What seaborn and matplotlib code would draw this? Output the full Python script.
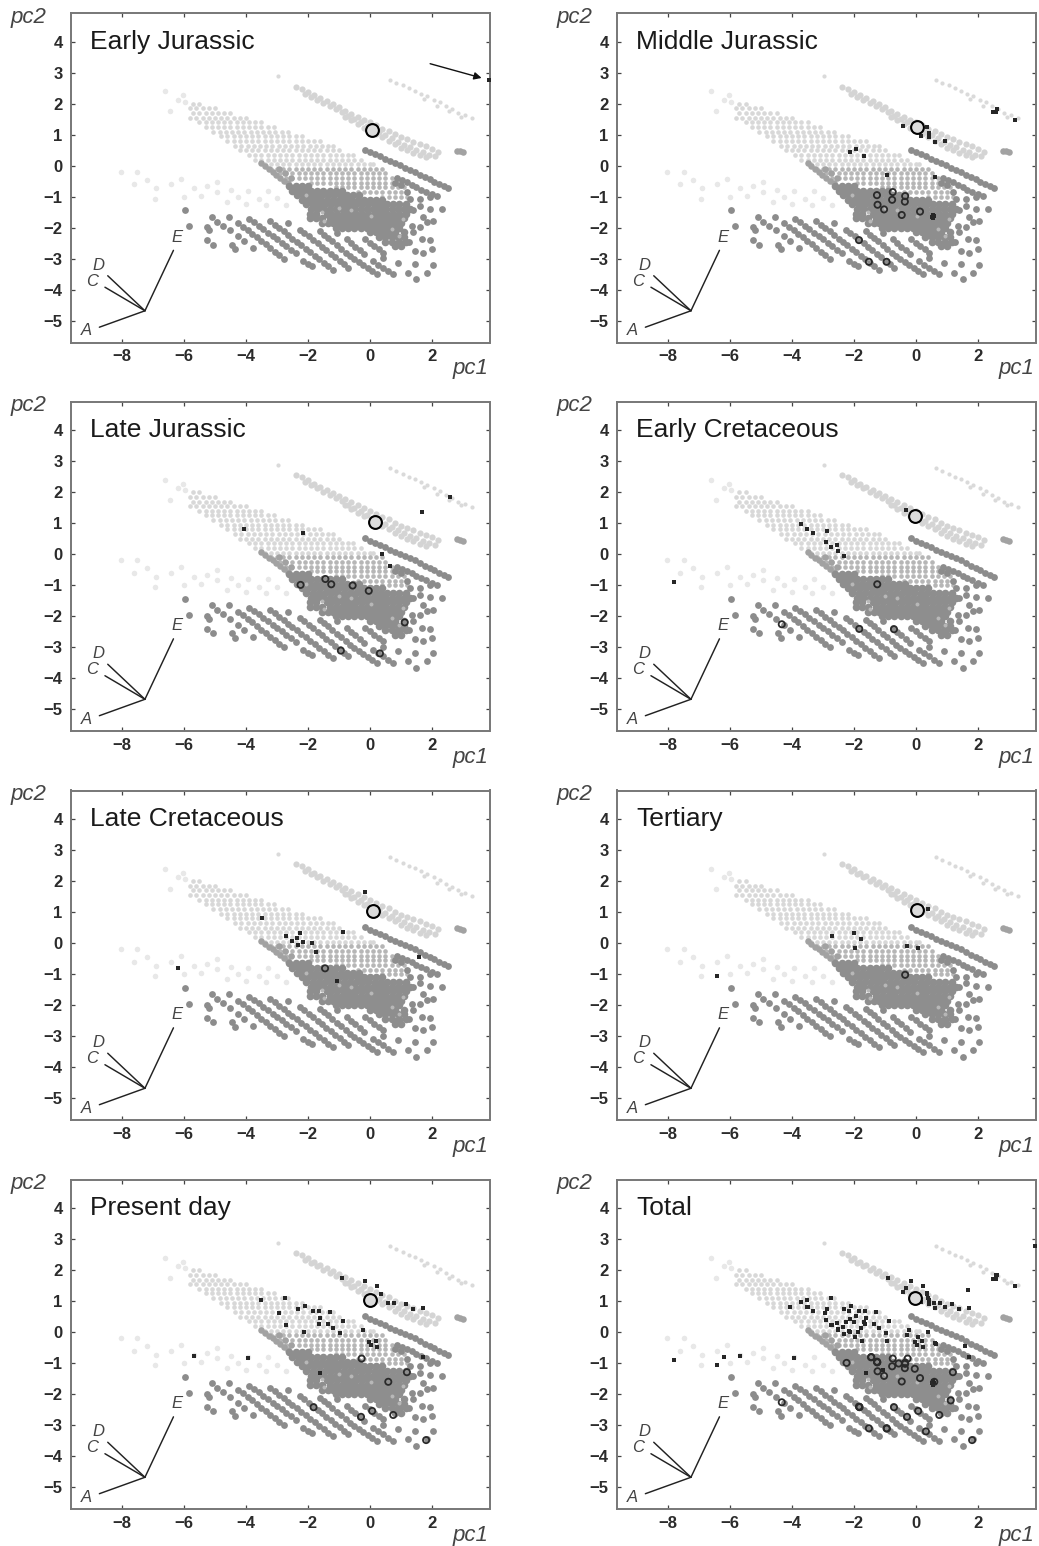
import matplotlib
matplotlib.use("Agg")
import matplotlib.pyplot as plt
import pandas as pd
import seaborn as sns

sns.set_theme(style="white")
plt.rcParams["font.family"] = ["Liberation Sans", "DejaVu Sans"]

titles = ["Early Jurassic", "Middle Jurassic", "Late Jurassic", "Early Cretaceous",
          "Late Cretaceous", "Tertiary", "Present day", "Total"]
x_ticks = [-8, -6, -4, -2, 0, 2]
y_ticks = [-5, -4, -3, -2, -1, 0, 1, 2, 3, 4]

# ---- morphospace background ----
dark_pts = [
 (-4.25,-1.85),(-4.10,-1.97),(-3.95,-2.08),(-3.80,-2.20),(-3.66,-2.31),(-3.51,-2.43),(-3.36,-2.54),(-3.21,-2.66),(-3.06,-2.77),(-2.92,-2.89),(-2.77,-3.00),
 (-3.89,-1.72),(-3.74,-1.83),(-3.59,-1.94),(-3.44,-2.05),(-3.29,-2.16),(-3.14,-2.27),(-2.99,-2.38),(-2.85,-2.49),(-2.70,-2.60),(-2.55,-2.71),(-2.40,-2.82),
 (-3.23,-1.79),(-3.08,-1.90),(-2.94,-2.01),(-2.79,-2.12),(-2.65,-2.24),(-2.50,-2.35),(-2.36,-2.46),(-2.21,-2.57),(-2.07,-2.68),(-1.92,-2.79),(-1.78,-2.90),(-1.63,-3.02),(-1.49,-3.13),(-1.34,-3.24),(-1.20,-3.35),
 (-2.26,-2.06),(-2.12,-2.17),(-1.98,-2.28),(-1.84,-2.39),(-1.69,-2.50),(-1.55,-2.61),(-1.41,-2.73),(-1.27,-2.84),(-1.13,-2.95),(-0.98,-3.06),(-0.84,-3.18),(-0.70,-3.29),
 (-2.63,-1.85),(-1.61,-2.11),(-1.47,-2.22),(-1.34,-2.33),(-1.21,-2.44),(-1.08,-2.16),(-1.07,-2.56),(-0.93,-2.68),(-0.79,-2.80),
 (-0.75,-2.38),(-0.61,-2.50),(-0.47,-2.62),(-0.33,-2.73),(-0.19,-2.85),
 (-0.65,-2.92),(-0.51,-3.02),(-0.36,-3.11),(-0.22,-3.21),(-0.07,-3.31),(0.07,-3.40),(0.22,-3.50),
 (0.11,-3.08),(0.27,-3.19),(0.43,-3.29),(0.59,-3.40),(0.75,-3.50),
 (-0.16,-2.38),(-0.01,-2.49),(0.14,-2.60),(0.29,-2.70),(0.43,-2.81),
 (-2.15,-3.08),(-2.00,-3.18),(-1.88,-3.24),
 (0.43,-2.98),(0.91,-3.13),(1.45,-3.18),(2.04,-3.20),(1.24,-3.45),(1.50,-3.67),(1.83,-3.45),
 (1.67,-2.38),(1.94,-2.40),(1.99,-2.70),(1.72,-2.81),(1.45,-2.75),(2.31,-1.41),(1.94,-1.39),(2.04,-1.79),(1.83,-1.82),(1.61,-1.97),(1.34,-1.95),
 (1.29,-1.09),(1.61,-1.09),(1.94,-1.00),(1.40,-1.42),(1.60,-1.30),(1.40,-2.15),(1.25,-2.45),(1.70,-1.65),
 (-5.97,-1.44),(-5.83,-1.96),(-5.11,-1.64),(-4.92,-1.80),(-4.73,-1.93),(-4.53,-2.09),(-4.56,-1.65),(-5.25,-1.99),(-5.20,-2.08),(-5.25,-2.41),(-5.05,-2.55),(-4.46,-2.55),(-4.35,-2.69),(-4.25,-2.28),(-4.06,-2.44),(-3.78,-2.66),
 (-0.16,0.51),(0.00,0.44),(0.16,0.37),(0.32,0.30),(0.48,0.22),(0.64,0.15),(0.80,0.08),(0.96,0.01),(1.12,-0.06),(1.28,-0.13),(1.44,-0.20),(1.60,-0.29),(1.76,-0.37),(1.92,-0.44),(2.08,-0.52),(2.24,-0.60),(2.38,-0.66),(2.53,-0.72),
 (0.86,-0.40),(1.02,-0.47),(1.18,-0.54),(1.34,-0.62),(1.50,-0.70),(1.66,-0.77),(1.82,-0.84),(2.00,-0.92),(2.15,-0.99),(0.80,-0.55),(1.00,-0.62),(1.20,-0.85),
]

dense_y = [-0.65, -0.8, -0.95, -1.1, -1.25, -1.4, -1.55, -1.7, -1.85, -2.0, -2.15, -2.3, -2.45, -2.6]
dense_x = [
 [-2.6,-2.4,-2.2,-2.0],
 [-2.5,-2.3,-2.1,-1.9,-1.7,-1.5,-1.3,-1.1,-0.9],
 [-2.35,-2.15,-1.95,-1.75,-1.55,-1.35,-1.15,-0.95,-0.75,-0.55,-0.35],
 [-2.2,-2.0,-1.8,-1.6,-1.4,-1.2,-1.0,-0.8,-0.6,-0.4,-0.2,0.0,0.2,0.4],
 [-2.05,-1.85,-1.65,-1.45,-1.25,-1.05,-0.85,-0.65,-0.45,-0.25,-0.05,0.15,0.35,0.55,0.75,0.95,1.15],
 [-1.9,-1.7,-1.5,-1.3,-1.1,-0.9,-0.7,-0.5,-0.3,-0.1,0.1,0.3,0.5,0.7,0.9,1.1,1.3],
 [-1.95,-1.75,-1.4,-1.25,-1.05,-0.85,-0.65,-0.45,-0.25,-0.05,0.15,0.35,0.55,0.75,0.95,1.15],
 [-1.95,-1.75,-1.55,-1.3,-1.1,-0.9,-0.7,-0.5,-0.3,-0.1,0.1,0.3,0.5,0.7,0.9,1.1],
 [-1.55,-1.35,-1.2,-1.0,-0.8,-0.6,-0.4,-0.2,0.0,0.2,0.4,0.6,0.8,1.0],
 [-1.1,-0.9,-0.7,-0.5,-0.3,-0.1,0.1,0.3,0.5,0.7,0.95],
 [0.0,0.2,0.4,0.6,0.8,1.1],
 [0.3,0.5,0.7,0.9,1.1],
 [0.5,0.7,0.95,1.15],
 [0.8,1.0],
]
speck_pts = [(-1.00,-1.35),(-0.62,-1.42),(0.02,-1.62),(-1.55,-1.50),(-2.05,-0.95),(0.72,-2.05),(0.92,-2.28),(1.05,-1.72),(-1.48,-1.78)]

light_y = [2.0, 1.85, 1.7, 1.55, 1.4, 1.25, 1.1, 0.95, 0.8, 0.65, 0.5, 0.35, 0.2, 0.05]
light_x = [
 [-5.7,-5.5],
 [-5.8,-5.6,-5.4,-5.2,-5.0],
 [-5.7,-5.5,-5.3,-5.1,-4.9,-4.7,-4.5],
 [-5.8,-5.6,-5.4,-5.2,-5.0,-4.8,-4.6,-4.4,-4.2,-4.0],
 [-5.5,-5.3,-5.1,-4.9,-4.7,-4.5,-4.3,-4.1,-3.9,-3.7,-3.5],
 [-5.3,-5.1,-4.9,-4.7,-4.5,-4.3,-4.1,-3.9,-3.7,-3.5,-3.3,-3.1],
 [-5.05,-4.85,-4.65,-4.45,-4.25,-4.05,-3.85,-3.65,-3.45,-3.25,-3.05,-2.85,-2.65],
 [-4.8,-4.6,-4.4,-4.2,-4.0,-3.8,-3.6,-3.4,-3.2,-3.0,-2.8,-2.6,-2.4,-2.2],
 [-4.6,-4.4,-4.2,-4.0,-3.8,-3.6,-3.4,-3.2,-3.0,-2.8,-2.6,-2.4,-2.2,-2.0,-1.8,-1.6],
 [-4.35,-4.15,-3.95,-3.75,-3.55,-3.35,-3.15,-2.95,-2.75,-2.55,-2.35,-2.15,-1.95,-1.75,-1.55,-1.35,-1.2],
 [-4.2,-4.0,-3.8,-3.6,-3.4,-3.2,-3.0,-2.8,-2.6,-2.4,-2.2,-2.0,-1.8,-1.6,-1.4,-1.2,-1.0],
 [-3.9,-3.7,-3.5,-3.3,-3.1,-2.9,-2.7,-2.5,-2.3,-2.1,-1.9,-1.7,-1.5,-1.3,-1.1,-0.9,-0.7,-0.55],
 [-3.7,-3.5,-3.3,-3.1,-2.9,-2.7,-2.5,-2.3,-2.1,-1.9,-1.7,-1.5,-1.3,-1.1,-0.9,-0.7,-0.5,-0.3],
 [-3.4,-3.2,-3.0,-2.8,-2.6,-2.4,-2.2,-2.0,-1.8,-1.6,-1.4,-1.2,-1.0,-0.8,-0.6,-0.4,-0.2,0.0,0.1],
]

mid_y = [-0.1, -0.25, -0.4, -0.55, -0.7, -0.85, -1.0]
mid_x = [
 [-3.2,-3.0,-2.8,-2.6,-2.4,-2.2,-2.0,-1.8,-1.6,-1.4,-1.2,-1.0,-0.8,-0.6,-0.4,-0.2,0.0,0.2,0.4],
 [-2.9,-2.7,-2.5,-2.3,-2.1,-1.9,-1.7,-1.5,-1.3,-1.1,-0.9,-0.7,-0.5,-0.3,-0.1,0.1,0.3,0.5],
 [-2.7,-2.5,-2.3,-2.1,-1.9,-1.7,-1.5,-1.3,-1.1,-0.9,-0.7,-0.5,-0.3,-0.1,0.1,0.3,0.5,0.7],
 [-1.9,-1.7,-1.5,-1.3,-1.1,-0.9,-0.7,-0.5,-0.3,-0.1,0.1,0.3,0.5,0.7,0.9],
 [-1.1,-0.9,-0.7,-0.5,-0.3,-0.1,0.1,0.3,0.5,0.7,0.9,1.1],
 [-0.4,-0.2,0.0,0.2,0.4,0.6,0.8,1.0,1.2],
 [0.4,0.6,0.8,1.0,1.2],
]

strip_pts = [(-3.50,0.08),(-3.38,-0.01),(-3.26,-0.11),(-3.14,-0.20),(-3.02,-0.29),(-2.90,-0.39),(-2.78,-0.48),(-2.66,-0.57),
             (-2.95,-0.10),(-2.75,-0.25),(-2.55,-0.40),(2.80,0.49),(3.01,0.43),(2.90,0.47)]

band_pts = [
 (-2.40,2.55),(-2.20,2.48),(-2.00,2.38),(-1.80,2.28),(-1.60,2.18),(-1.40,2.08),(-1.20,1.98),(-1.00,1.88),(-0.80,1.78),(-0.60,1.68),(-0.40,1.58),(-0.20,1.48),(0.00,1.40),(0.20,1.30),(0.40,1.20),(0.60,1.12),(0.80,1.02),(1.00,0.92),(1.20,0.85),(1.40,0.78),(1.60,0.70),(1.80,0.62),(2.00,0.55),(2.20,0.45),
 (-2.10,2.32),(-1.90,2.22),(-1.70,2.12),(-1.50,2.02),(-1.30,1.92),(-1.10,1.82),(-0.90,1.72),(-0.70,1.60),(-0.50,1.50),(-0.30,1.40),(-0.10,1.28),(0.10,1.18),(0.30,1.08),(0.50,0.98),(0.70,0.88),(0.90,0.78),(1.10,0.68),(1.30,0.60),(1.50,0.52),(1.70,0.44),(1.90,0.36),(2.10,0.30),
 (-0.80,1.58),(-0.60,1.46),(-0.40,1.34),(-0.20,1.22),(0.20,1.02),(0.40,0.92),(0.60,0.80),(0.80,0.70),(1.00,0.58),(1.20,0.50),(1.40,0.42),(1.60,0.34),(1.80,0.28),
]

top_band_pts = [(-2.96,2.89),(0.65,2.77),(0.85,2.68),(1.05,2.60),(1.25,2.50),(1.45,2.42),(1.65,2.32),(1.85,2.24),(2.05,2.12),(2.25,2.04),(2.45,1.92),(2.65,1.82),(2.85,1.70),(3.05,1.62),(3.28,1.53),(1.75,2.16),(2.15,1.94),(2.55,1.76),(2.95,1.58)]

faint_pts = [(-8.04,-0.19),(-7.5,-0.19),(-7.6,-0.6),(-7.19,-0.46),(-6.91,-0.73),(-6.94,-1.07),(-6.43,-0.6),(-6.1,-0.42),(-5.68,-0.73),(-5.45,-0.97),(-6.0,-1.0),
             (-5.25,-0.66),(-4.93,-0.52),(-4.49,-0.78),(-4.93,-0.84),(-4.6,-1.16),(-4.26,-1.0),(-3.94,-0.8),(-3.58,-1.07),(-3.29,-0.8),(-3.35,-1.26),(-4.0,-1.22),(-2.72,-1.26),(-3.0,-1.05),
             (-6.45,1.75),(-6.03,2.28),(-6.19,2.12),(-5.97,2.06),(-6.6,2.40)]

# ---- fossil occurrences per time slice ----
squares = [
 [(3.85,2.77)],
 [(-0.43,1.29),(0.34,1.25),(0.43,1.05),(0.43,0.92),(0.15,0.97),(0.60,0.78),(0.95,0.80),(-2.13,0.43),(-1.92,0.53),(-1.68,0.32),(-0.92,-0.29),(0.62,-0.35),(2.49,1.73),(2.60,1.83),(2.58,1.73),(3.20,1.49),(0.54,-1.58),(0.54,-1.69),(0.58,-1.63),(0.50,-1.64)],
 [(2.58,1.83),(1.67,1.37),(-4.06,0.81),(-2.16,0.70),(0.40,0.02),(0.63,-0.39)],
 [(-3.71,0.97),(-3.52,0.82),(-3.32,0.68),(-2.87,0.75),(-2.91,0.39),(-2.73,0.24),(-2.55,0.31),(-2.52,0.09),(-2.32,-0.05),(-7.80,-0.91),(-0.32,1.44)],
 [(-0.16,1.65),(-3.48,0.82),(-0.88,0.35),(-2.71,0.24),(-2.27,0.32),(-2.35,0.16),(-2.51,0.07),(-2.15,0.03),(-2.31,-0.06),(-1.88,0.02),(-1.74,-0.28),(1.57,-0.46),(-1.07,-1.22),(-6.20,-0.80)],
 [(0.39,1.09),(-2.72,0.23),(-1.99,0.32),(-1.76,0.15),(-1.96,-0.15),(-0.30,-0.10),(0.06,-0.16),(-6.42,-1.07)],
 [(-0.89,1.76),(-0.16,1.65),(0.22,1.49),(0.35,1.24),(0.58,0.94),(0.76,0.94),(1.16,0.92),(1.38,0.75),(1.70,0.78),(-3.52,1.04),(-2.75,1.10),(-2.92,0.61),(-2.31,0.76),(-2.11,0.85),(-1.85,0.68),(-1.65,0.70),(-1.30,0.65),(-1.61,0.47),(-0.88,0.36),(-1.66,0.27),(-1.35,0.28),(-1.19,0.15),(-0.98,-0.02),(-2.71,0.24),(-2.14,0.02),(-0.23,0.06),(-0.03,-0.30),(0.19,-0.27),(0.04,-0.40),(0.22,-0.49),(1.70,-0.80),(-5.67,-0.77),(-3.93,-0.82),(-1.61,-1.30)],
]
circles = [
 [],
 [(-1.26,-0.95),(-0.75,-0.85),(-0.77,-1.10),(-0.35,-0.98),(-0.36,-1.16),(-1.24,-1.26),(-1.03,-1.41),(-0.46,-1.59),(0.13,-1.48),(-1.84,-2.40),(-1.52,-3.10),(-0.95,-3.10)],
 [(-2.24,-0.99),(-1.44,-0.80),(-1.25,-0.97),(-0.56,-1.01),(-0.04,-1.18),(1.12,-2.20),(-0.94,-3.11),(0.32,-3.20)],
 [(-1.25,-0.97),(-4.33,-2.26),(-1.83,-2.41),(-0.71,-2.42)],
 [(-1.45,-0.81)],
 [(-0.35,-1.02)],
 [(-0.27,-0.85),(1.19,-1.29),(0.59,-1.60),(-1.82,-2.42),(0.07,-2.54),(-0.29,-2.73),(0.75,-2.67),(1.81,-3.48)],
]
reference_x = [0.08, 0.04, 0.17, -0.03, 0.09, 0.03, 0.01, -0.02]
reference_y = [1.16, 1.24, 1.03, 1.22, 1.04, 1.06, 1.05, 1.10]

arrow_start = (1.94, 3.29)
arrow_tip = (3.60, 2.83)
axis_origin = (-7.26, -4.68)
axis_names = ["A", "C", "D", "E"]
axis_ends = [(-8.73, -5.21), (-8.55, -3.92), (-8.46, -3.55), (-6.34, -2.73)]
axis_labels = [(-9.16, -5.33), (-8.98, -3.73), (-8.76, -3.21), (-6.24, -2.31)]

# total panel is the union of the seven slices
squares.append([p for s in squares for p in s])
circles.append([p for c in circles for p in c])


def frame(points):
    return pd.DataFrame(points, columns=["pc1", "pc2"])


def rows(ys, xs):
    return frame([(x, y) for y, r in zip(ys, xs) for x in r])


faint_df = frame(faint_pts)
top_df = frame(top_band_pts)
band_df = frame(band_pts)
light_df = rows(light_y, light_x)
mid_df = rows(mid_y, mid_x)
strip_df = frame(strip_pts)
dark_df = frame(dark_pts)
dense_df = rows(dense_y, dense_x)
speck_df = frame(speck_pts)

W, H = 1039, 1546
fig = plt.figure(figsize=(W / 100, H / 100), dpi=100, facecolor="white")
lefts = [71, 617]
tops = [13, 401.5, 790.5, 1179.5]
ax_w, ax_h = 418.5, 329.5

for i, title in enumerate(titles):
    row, col = i // 2, i % 2
    ax = fig.add_axes([lefts[col] / W, 1 - (tops[row] + ax_h) / H, ax_w / W, ax_h / H])
    ax.set_xlim(-299 / 31, 119.5 / 31)
    ax.set_ylim(-176.8 / 31, 152.7 / 31)

    layers = [(faint_df, "#e8e8e8", 16), (top_df, "#dadada", 9), (band_df, "#d4d4d4", 20),
              (light_df, "#d8d8d8", 11), (mid_df, "#b6b6b6", 11), (strip_df, "#a2a2a2", 22),
              (dark_df, "#8c8c8c", 24), (dense_df, "#8e8e8e", 30), (speck_df, "#b8b8b8", 8)]
    for df, colour, size in layers:
        sns.scatterplot(data=df, x="pc1", y="pc2", color=colour, s=size, linewidth=0,
                        legend=False, ax=ax, clip_on=True)

    if squares[i]:
        sns.scatterplot(data=frame(squares[i]), x="pc1", y="pc2", marker="s", color="#262626",
                        s=7, linewidth=0, legend=False, ax=ax, zorder=4, clip_on=False)
    if circles[i]:
        ax.scatter(*zip(*circles[i]), s=20, facecolors="none", edgecolors="#2a2a2a",
                   linewidths=1.3, zorder=5)
    ax.scatter([reference_x[i]], [reference_y[i]], s=85, facecolors="#dcdcdc",
               edgecolors="black", linewidths=1.5, zorder=6)

    for name, end, pos in zip(axis_names, axis_ends, axis_labels):
        ax.plot([axis_origin[0], end[0]], [axis_origin[1], end[1]], color="#222222", lw=1.05, zorder=3)
        ax.text(pos[0], pos[1], name, style="italic", fontsize=12, color="#444444",
                ha="center", va="center")

    if i == 0:
        ax.annotate("", xy=arrow_tip, xytext=arrow_start,
                    arrowprops=dict(arrowstyle="-|>", color="#111111", lw=1.0,
                                    shrinkA=0, shrinkB=0, mutation_scale=11))

    ax.text(-9.03, 3.77, title, fontsize=19, color="#1a1a1a", ha="left", va="baseline")
    ax.text(-11.58, 4.61, "pc2", style="italic", fontsize=16, color="#444444",
            ha="left", va="baseline", clip_on=False)
    ax.text(3.82, -6.72, "pc1", style="italic", fontsize=16, color="#444444",
            ha="right", va="baseline", clip_on=False)

    ax.set_xticks(x_ticks)
    ax.set_yticks(y_ticks)
    ax.set_xticklabels([str(v).replace("-", "\u2212") for v in x_ticks])
    ax.set_yticklabels([str(v).replace("-", "\u2212") for v in y_ticks])
    ax.set_xlabel("")
    ax.set_ylabel("")
    ax.tick_params(axis="both", which="major", direction="in", length=3, width=0.9,
                   color="#444444", labelcolor="#2b2b2b", labelsize=12, top=True, right=True,
                   bottom=True, left=True)
    ax.tick_params(axis="x", pad=5)
    ax.tick_params(axis="y", pad=6)
    for lab in ax.get_xticklabels() + ax.get_yticklabels():
        lab.set_fontweight("bold")
    for sp in ax.spines.values():
        sp.set_color("#777777")
        sp.set_linewidth(1.4)
        sp.set_zorder(2.5)

fig.savefig("out.png", dpi=100)
